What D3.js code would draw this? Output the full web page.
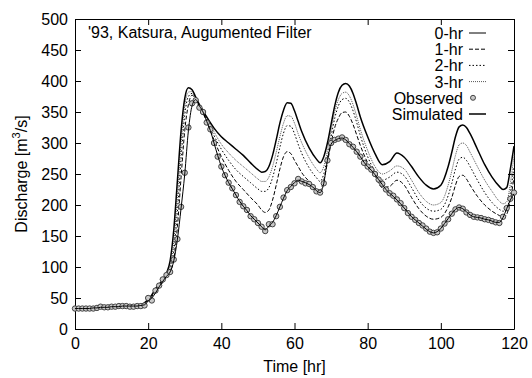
<!DOCTYPE html>
<html>
<head>
<meta charset="utf-8">
<script src="https://cdn.jsdelivr.net/npm/d3@7"></script>
<style>
  body { margin: 0; background: #fff; }
  svg text { font-family: "Liberation Sans", Arial, sans-serif; font-size: 16px; fill: #000; }
</style>
</head>
<body>
<div id="chart"></div>
<script>
// forecast / simulated time points [hr]
const fT = [0,4,8,12,16,18,20,21,22,23,24,25,26,27,28,29,30,31,32,33,34,35,36,38,40,42,44,46,48,50,51,52,53,54,55,56,57,58,59,60,61,62,64,66,67,68,69,70,71,72,73,74,75,76,77,78,80,82,84,86,88,90,92,94,96,98,100,102,103,104,105,106,107,108,110,112,114,116,117,118,119,120];

const simulated = [34,34,36,37,38,39,48, 55,65,72,80,90,110,160,240,320,372,389,386,374,362,352,342,
  324,310,300,290,280,268,257, 253,254,262,280,305,332,353,365,364,352,335,318,
  292,274, 268,278,300,330,360,382,393,396,392,380,362,342,
  310,283,265,270,284,277,262,245,232,226,232, 262,285,310,326,329,325,315,
  290,265,245,230, 225,228,258,295];

const hr3 = [34,34,36,37,38,39,47, 54,63,70,78,88,100,140,215,300,360,382,383,373,362,352,340,
  318,298,284,272,262,252,242, 238,238,245,262,285,310,332,344,343,332,315,300,
  276,258, 252,262,288,320,350,370,380,382,376,362,343,322,
  288,262,250,255,263,258,240,220,206,200,204, 232,255,280,297,300,296,285,
  262,240,222,206, 202,205,235,280];

const hr2 = [34,34,36,37,38,39,46, 53,62,69,77,86,96,125,190,275,345,375,380,372,360,350,338,
  312,290,272,257,246,236,226, 222,222,228,244,267,293,316,328,327,315,298,283,
  260,244, 238,250,277,310,340,360,370,372,366,352,333,312,
  278,254,240,245,253,247,228,208,195,190,193, 215,235,258,274,277,272,262,
  240,220,204,193, 190,192,220,262];

const hr1 = [34,34,36,37,38,39,46, 52,60,68,75,84,92,112,165,245,320,362,377,370,358,348,334,
  305,278,256,238,225,212,200, 192,188,192,208,232,258,278,286,283,272,262,252,
  238,226, 224,240,268,300,325,340,349,350,343,330,313,296,
  268,247,228,230,240,232,212,194,182,177,180, 197,212,232,246,248,242,232,
  214,200,190,183, 180,185,208,245];

// hourly observed and 0-hr estimate
const hT = d3.range(0, 121);

const hr0 = [33,33,33,33,33,34,34,35,35,35,36,36,36,37,37,37,37,37,38,39,
  45,50,58,68,77,85,92,110,145,195,250,320,360,370,360,350,335,320,300,280,
  262,248,236,226,216,206,198,191,183,177,171,165,160,166,172,183,197,211,223,230,
  236,240,238,236,233,229,223,220,235,272,298,304,307,308,305,299,293,286,278,269,
  262,256,249,241,233,225,219,214,208,202,195,188,181,176,171,166,161,157,155,157,
  162,170,178,186,193,196,194,189,184,181,180,179,177,176,174,172,172,180,194,208,218];

const observed = [33,33,33,33,33,33,34,36,35,35,36,36,37,37,37,36,36,37,37,38,
  50,46,62,70,80,87,92,112,145,197,252,325,364,369,357,350,333,322,300,278,
  262,248,236,227,216,205,198,192,182,177,171,165,158,169,169,182,197,212,224,229,
  235,242,238,235,234,229,222,220,235,272,300,305,307,309,305,298,294,286,278,268,
  262,257,250,241,234,225,219,215,209,203,195,187,181,176,171,167,162,157,155,156,
  162,170,177,186,193,196,194,188,184,181,180,179,177,176,174,172,171,181,195,210,220];

const xTicks = [0, 20, 40, 60, 80, 100, 120];
const yTicks = [0, 50, 100, 150, 200, 250, 300, 350, 400, 450, 500];
const legendLabels = ['0-hr', '1-hr', '2-hr', '3-hr', 'Observed', 'Simulated'];

const width = 532, height = 378;
const margin = { top: 19, right: 18, bottom: 49, left: 75 };

const svg = d3.select('#chart').append('svg')
  .attr('width', width)
  .attr('height', height);

const x = d3.scaleLinear().domain([0, 120]).range([margin.left, width - margin.right]);
const y = d3.scaleLinear().domain([0, 500]).range([height - margin.bottom, margin.top]);

// axes, ticks inward on all four sides
const tickLen = 6;
svg.append('g')
  .attr('transform', `translate(0,${y(0)})`)
  .call(d3.axisBottom(x).tickValues(xTicks).tickSizeInner(-tickLen).tickSizeOuter(0).tickPadding(9));
svg.append('g')
  .attr('transform', `translate(0,${y(500)})`)
  .call(d3.axisTop(x).tickValues(xTicks).tickSizeInner(-tickLen).tickSizeOuter(0).tickFormat(''));
svg.append('g')
  .attr('transform', `translate(${x(0)},0)`)
  .call(d3.axisLeft(y).tickValues(yTicks).tickSizeInner(-tickLen).tickSizeOuter(0).tickPadding(7));
svg.append('g')
  .attr('transform', `translate(${x(120)},0)`)
  .call(d3.axisRight(y).tickValues(yTicks).tickSizeInner(-tickLen).tickSizeOuter(0).tickFormat(''));

svg.selectAll('.domain').attr('stroke', '#000');
svg.selectAll('.tick line').attr('stroke', '#000');
svg.selectAll('.tick text').style('font-size', '16px').style('font-family', '"Liberation Sans", Arial, sans-serif').attr('fill', '#000');

// axis titles
svg.append('text')
  .attr('x', (x(0) + x(120)) / 2)
  .attr('y', 372)
  .attr('text-anchor', 'middle')
  .text('Time [hr]');

const yl = svg.append('text')
  .attr('transform', `translate(27,${(y(0) + y(500)) / 2}) rotate(-90)`)
  .attr('text-anchor', 'middle');
yl.append('tspan').text('Discharge [m');
yl.append('tspan').attr('dy', -7).style('font-size', '11px').text('3');
yl.append('tspan').attr('dy', 7).text('/s]');

svg.append('text')
  .attr('x', 88)
  .attr('y', 38)
  .text("'93, Katsura, Augumented Filter");

// line styles
const styles = {
  hr0: { dash: null, color: '#000', w: 1 },
  hr1: { dash: '4,2', color: '#000', w: 1 },
  hr2: { dash: '1.5,2', color: '#000', w: 1 },
  hr3: { dash: '1,1', color: '#555', w: 1 },
  sim: { dash: null, color: '#000', w: 1.5 }
};

const line = d3.line()
  .x(d => x(d[0]))
  .y(d => y(d[1]))
  .curve(d3.curveMonotoneX);

const drawLine = (ts, vals, st) => {
  svg.append('path')
    .datum(ts.map((t, i) => [t, vals[i]]))
    .attr('d', line)
    .attr('fill', 'none')
    .attr('stroke', st.color)
    .attr('stroke-width', st.w)
    .attr('stroke-dasharray', st.dash);
};

drawLine(fT, hr3, styles.hr3);
drawLine(fT, hr2, styles.hr2);
drawLine(fT, hr1, styles.hr1);
drawLine(fT, simulated, styles.sim);

// observed circles
const obsG = svg.append('g');
obsG.selectAll('circle')
  .data(hT.map((t, i) => [t, observed[i]]))
  .enter()
  .append('circle')
  .attr('cx', d => x(d[0]))
  .attr('cy', d => y(d[1]))
  .attr('r', 2.7)
  .attr('fill', '#c8c8c8')
  .attr('stroke', '#333')
  .attr('stroke-width', 0.9);

drawLine(hT, hr0, styles.hr0);

// legend
const lgX = 463, lgY = 33, lgStep = 16.2;
const lg = svg.append('g');
legendLabels.forEach((lab, i) => {
  const yy = lgY + i * lgStep;
  lg.append('text')
    .attr('x', lgX)
    .attr('y', yy + 6)
    .attr('text-anchor', 'end')
    .text(lab);
  if (lab === 'Observed') {
    lg.append('circle')
      .attr('cx', 473).attr('cy', yy)
      .attr('r', 2.5)
      .attr('fill', '#c8c8c8')
      .attr('stroke', '#333')
      .attr('stroke-width', 0.9);
  } else {
    const st = [styles.hr0, styles.hr1, styles.hr2, styles.hr3, null, styles.sim][i];
    lg.append('line')
      .attr('x1', 469).attr('x2', 486)
      .attr('y1', yy).attr('y2', yy)
      .attr('stroke', st.color)
      .attr('stroke-width', st.w)
      .attr('stroke-dasharray', st.dash);
  }
});
</script>
</body>
</html>
